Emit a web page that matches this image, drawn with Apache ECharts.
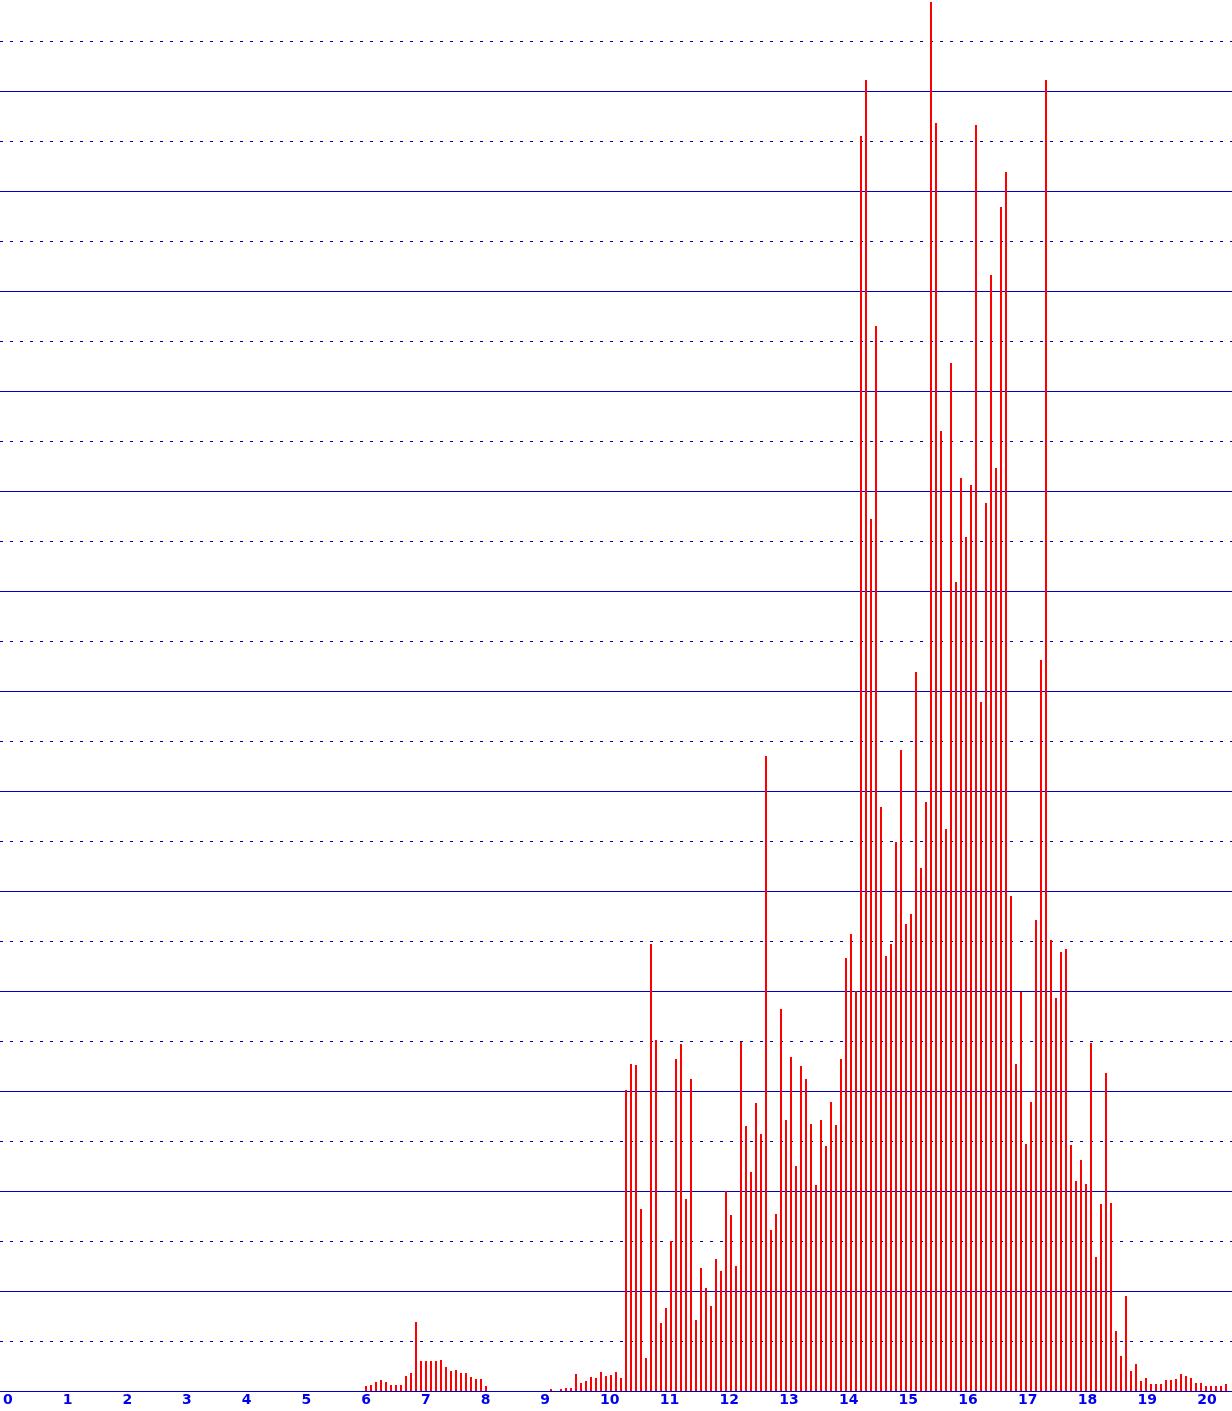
<!DOCTYPE html>
<html><head><meta charset="utf-8">
<script src="https://cdn.jsdelivr.net/npm/echarts@6/dist/echarts.min.js"></script>
<style>html,body{margin:0;padding:0;background:#fff;overflow:hidden}#c{width:1232px;height:1411px}</style>
</head><body><div id="c"></div>
<script>
// Regularly sampled series: sample i sits at x = sampleStart + i * sampleStep
const sampleStart = 0;
const sampleStep = 1 / 12;

// Bar heights (one per sample, 0 .. 20.33)
const heightsA = [ // samples 0..71 (x 0 .. 5.92)
  0,0,0,0,0,0,0,0,0,0,0,0, 0,0,0,0,0,0,0,0,0,0,0,0,
  0,0,0,0,0,0,0,0,0,0,0,0, 0,0,0,0,0,0,0,0,0,0,0,0,
  0,0,0,0,0,0,0,0,0,0,0,0, 0,0,0,0,0,0,0,0,0,0,0,0
];
const heightsB = [ // samples 72..119 (x 6 .. 9.92)
  5,6,9,11,9,6,6,6,15,18,69,30,
  30,30,30,31,24,20,21,18,18,14,12,12,
  5,0,0,0,0,0,0,0,0,0,0,0,
  0,2,0,2,3,3,17,8,10,14,13,19
];
const heightsC = [ // samples 120..167 (x 10 .. 13.92)
  15,16,19,13,301,327,326,182,33,447,351,68,
  83,150,332,347,192,312,71,123,103,85,132,120,
  200,176,125,349,265,219,288,257,635,161,177,382,
  271,334,225,325,312,267,206,271,245,289,266,332
];
const heightsD = [ // samples 168..215 (x 14 .. 17.92)
  433,457,400,1255,1311,872,1065,584,435,447,549,641,
  467,477,719,523,589,1389,1268,960,562,1028,809,913,
  854,906,1266,689,888,1116,923,1184,1219,495,327,399,
  247,289,471,731,1311,451,393,439,442,246,210,231
];
const heightsE = [ // samples 216..244 (x 18 .. 20.33)
  207,348,134,187,318,188,60,35,95,20,27,10,
  13,7,7,7,11,11,12,17,15,13,8,8,
  5,5,5,5,7
];
const heights = heightsA.concat(heightsB, heightsC, heightsD, heightsE);

const xTickLabels = ['0','1','2','3','4','5','6','7','8','9','10',
  '11','12','13','14','15','16','17','18','19','20'];

const gridColor = '#0000cc';
const labelColor = '#0000ee';
const barColor = '#ff0000';

const barData = heights.map((h, i) => [sampleStart + i * sampleStep, h]);

const chart = echarts.init(document.getElementById('c'), null, {renderer: 'canvas'});
chart.setOption({
  animation: false,
  backgroundColor: '#ffffff',
  grid: [
    {left: 0, right: 0, top: 0, bottom: 20},
    {left: 0, right: 0, top: 0, bottom: 20}
  ],
  xAxis: [
    {
      gridIndex: 0, type: 'value', min: -0.1, max: 20.4333,
      axisLine: {show: true, lineStyle: {color: gridColor, width: 1}},
      axisTick: {show: false}, axisLabel: {show: false}, splitLine: {show: false}
    },
    {
      gridIndex: 1, type: 'value', min: 0, max: 20.5333, interval: 1,
      axisLine: {show: false}, axisTick: {show: false}, splitLine: {show: false},
      axisLabel: {
        show: true, align: 'left', margin: 2,
        color: labelColor, fontFamily: 'DejaVu Sans', fontWeight: 'bold', fontSize: 14,
        formatter: v => (Number.isInteger(v) && xTickLabels[v] !== undefined) ? xTickLabels[v] : ''
      }
    }
  ],
  yAxis: [
    {
      gridIndex: 0, type: 'value', min: 0, max: 1391, interval: 50,
      axisLine: {show: false}, axisTick: {show: false}, axisLabel: {show: false},
      splitLine: {show: true, showMaxLine: false,
        lineStyle: {color: gridColor, width: 1, type: [3, 7], dashOffset: 0}}
    },
    {
      gridIndex: 0, type: 'value', min: 0, max: 1391, interval: 100, position: 'left',
      axisLine: {show: false}, axisTick: {show: false}, axisLabel: {show: false},
      splitLine: {show: true, showMaxLine: false,
        lineStyle: {color: gridColor, width: 1, type: 'solid'}}
    },
    {gridIndex: 1, type: 'value', show: false, splitLine: {show: false}}
  ],
  series: [{
    type: 'bar', xAxisIndex: 0, yAxisIndex: 0,
    data: barData, barWidth: 2,
    itemStyle: {color: barColor},
    emphasis: {disabled: true}
  }]
});
</script>
</body></html>
